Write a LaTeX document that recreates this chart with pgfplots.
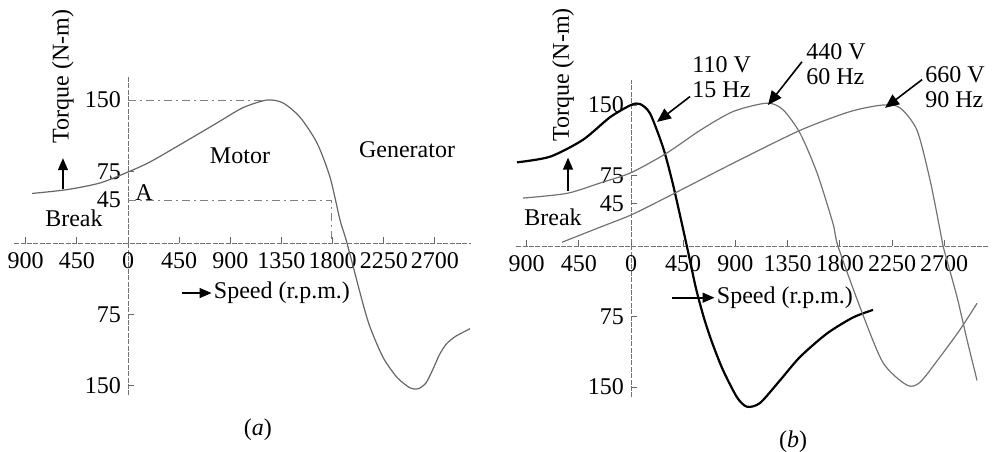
\documentclass[border=0pt]{standalone}
\usepackage{fontspec}
\setmainfont{Liberation Serif}
\usepackage{pgfplots}
\pgfplotsset{compat=1.18}
\usetikzlibrary{arrows.meta}

\newcommand{\lab}{\fontsize{12}{12.5}\selectfont}

\pgfplotsset{
  panel/.style={
    axis lines=middle,
    axis line style={-, black!55, line width=0.5pt, dash pattern=on 2.5pt off 0.7pt},
    hide obscured x ticks=false,
    hide obscured y ticks=false,
    clip=false,
    xtick={-900,-450,0,450,900,1350,1800,2250,2700},
    ytick={-150,-75,45,75,150},
    /pgf/number format/assume math mode=true,
    xticklabel={\pgfmathparse{abs(\tick)}\pgfmathprintnumber[fixed,precision=0,1000 sep={}]{\pgfmathresult}},
    yticklabel={\pgfmathparse{abs(\tick)}\pgfmathprintnumber[fixed,precision=0,1000 sep={}]{\pgfmathresult}},
    tick align=inside,
    major tick length=3pt,
    tick style={black!60, line width=0.5pt},
    ticklabel style={font=\fontsize{12}{12}\selectfont},
    x tick label style={yshift=-1pt},
  },
}

\pgfplotstableread{
rpm   T
-844  52
-537  56
-246  63
0     74.5
193   85
484   105
783   126
1011  142
1222  150
1363  147
1513  132
1662  105
1777  69
1865  24
1926  0
2058  -60
2128  -88
2243  -120
2366  -141
2480  -152
2551  -153
2620  -147
2680  -133
2740  -117
2800  -106
2880  -98
3008  -90
}\curveA

\pgfplotstableread{
rpm   T
-983  89
-698  95
-414  113
-181  137
0     150
78    151
164   141
276   105
353   70
422   33
490   -5
560   -45
630   -77
700   -103
793   -132
914   -161
1000  -171
1112  -167
1284  -143
1457  -118
1690  -93
1914  -76
2086  -68
}\curveBa

\pgfplotstableread{
rpm   T
-931  51
-552  56
-267  67
0     78
310   99
595   123
879   143
1172  152
1310  145
1457  120
1603  78
1741  24
1784  0
1974  -65
2172  -124
2379  -148
2491  -145
2664  -118
2836  -89
2983  -61
}\curveBb

\pgfplotstableread{
rpm   T
-595  4
-267  20
0     33
310   52
879   88
1457  123
1888  143
2172  150
2319  147
2466  123
2578  70
2664  17
2690  0
2810  -54
2897  -100
2983  -143
}\curveBc

\begin{document}
\begin{tikzpicture}
\useasboundingbox (0,0) rectangle (497pt,-225.5pt);

% ---------------- panel (a) ----------------
\begin{axis}[panel,
  anchor=origin, at={(64pt,-121.5pt)},
  x=0.05685pt, y=0.4765pt,
  xmin=-1000, xmax=3020, ymin=-160, ymax=174]
  \addplot[black!60, line width=0.6pt, smooth, tension=0.45] table[x=rpm,y=T] {\curveA};
  \addplot[black!50, line width=0.5pt, dash pattern=on 4pt off 2pt on 1pt off 2pt] coordinates {(0,150) (1222,150)};
  \addplot[black!50, line width=0.5pt, dash pattern=on 4pt off 2pt on 1pt off 2pt] coordinates {(0,45) (1790,45) (1790,0)};
  \node[rotate=90, font=\lab] at (axis cs:-572,175) {Torque (N-m)};
  \draw[-{Triangle[length=6pt,width=5pt]}, line width=0.7pt] (axis cs:-572,57) -- (axis cs:-572,89);
  \node[font=\lab] at (axis cs:-475,26) {Break};
  \node[font=\lab] at (axis cs:140,53) {A};
  \node[font=\lab] at (axis cs:985,92) {Motor};
  \node[font=\lab] at (axis cs:2454,98) {Generator};
  \draw[-{Triangle[length=6pt,width=5pt]}, line width=0.6pt] (axis cs:475,-52.5) -- (axis cs:735,-52.5);
  \node[anchor=west, inner sep=1pt, font=\lab] at (axis cs:735,-52.5) {Speed (r.p.m.)};
  \node[font=\lab] at (axis cs:1143,-196) {(\textit{a})};
\end{axis}

% ---------------- panel (b) ----------------
\begin{axis}[panel,
  anchor=origin, at={(315.5pt,-123pt)},
  x=0.058pt, y=0.47pt,
  xmin=-990, xmax=3078, ymin=-161, ymax=177]
  \addplot[black, line width=1.1pt, smooth, tension=0.45] table[x=rpm,y=T] {\curveBa};
  \addplot[black!55, line width=0.6pt, smooth, tension=0.45] table[x=rpm,y=T] {\curveBb};
  \addplot[black!55, line width=0.6pt, smooth, tension=0.45] table[x=rpm,y=T] {\curveBc};
  \node[rotate=90, font=\lab] at (axis cs:-586,182) {Torque (N-m)};
  \draw[-{Triangle[length=6pt,width=5pt]}, line width=0.7pt] (axis cs:-543,59) -- (axis cs:-543,94);
  \node[font=\lab] at (axis cs:-672,31) {Break};
  \node[anchor=west, align=left, inner sep=1pt, font=\lab] at (axis cs:509,180) {110 V\\15 Hz};
  \node[anchor=west, align=left, inner sep=1pt, font=\lab] at (axis cs:1490,194) {440 V\\60 Hz};
  \node[anchor=west, align=left, inner sep=1pt, font=\lab] at (axis cs:2517,169) {660 V\\90 Hz};
  \draw[-{Triangle[length=7pt,width=6pt]}, line width=0.8pt] (axis cs:509,159) -- (axis cs:224,132);
  \draw[-{Triangle[length=7pt,width=6pt]}, line width=0.8pt] (axis cs:1474,196) -- (axis cs:1181,150);
  \draw[-{Triangle[length=7pt,width=6pt]}, line width=0.8pt] (axis cs:2509,177) -- (axis cs:2190,147);
  \draw[-{Triangle[length=6pt,width=5pt]}, line width=0.8pt] (axis cs:353,-55) -- (axis cs:720,-55);
  \node[anchor=west, inner sep=1pt, font=\lab] at (axis cs:720,-55) {Speed (r.p.m.)};
  \node[font=\lab] at (axis cs:1397,-208) {(\textit{b})};
\end{axis}
\end{tikzpicture}
\end{document}
